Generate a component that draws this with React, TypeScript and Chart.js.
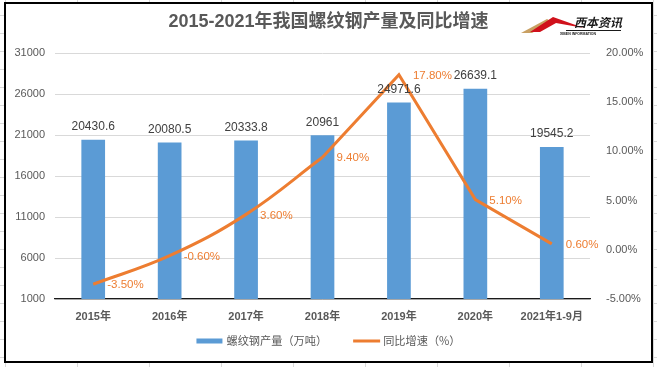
import React, { useEffect, useRef } from 'react';
import { Chart, registerables } from 'chart.js';

Chart.register(...registerables);

const categories = ['2015年', '2016年', '2017年', '2018年', '2019年', '2020年', '2021年1-9月'];
const production = [20430.6, 20080.5, 20333.8, 20961, 24971.6, 26639.1, 19545.2];
const growth = [-3.5, -0.6, 3.6, 9.4, 17.8, 5.1, 0.6];
const leftTicks = [1000, 6000, 11000, 16000, 21000, 26000, 31000];
const rightTicks = [-5, 0, 5, 10, 15, 20];
const smoothEndIndex = 3;

const titleText = '2015-2021年我国螺纹钢产量及同比增速';
const barLabel = '螺纹钢产量（万吨）';
const lineLabel = '同比增速（%）';

const BLUE = '#5B9BD5';
const ORANGE = '#ED7D31';
const GREY = '#595959';
const FONT = '"Liberation Sans", "Noto Sans CJK SC", sans-serif';
const CJK = '"Noto Sans CJK SC", "Liberation Sans", sans-serif';

const growthSmooth = growth.map((v, i) => (i <= smoothEndIndex ? v : null));
const growthStraight = growth.map((v, i) => (i >= smoothEndIndex ? v : null));

const labelsPlugin = {
  id: 'valueLabels',
  afterDatasetsDraw(chart: any) {
    const ctx = chart.ctx;
    const x = chart.scales.x;
    const y = chart.scales.y;
    const y1 = chart.scales.y1;
    ctx.save();
    ctx.font = `12px ${FONT}`;
    ctx.fillStyle = '#404040';
    ctx.textAlign = 'center';
    ctx.textBaseline = 'middle';
    production.forEach((v, i) => {
      ctx.fillText(String(v), x.getPixelForValue(i), y.getPixelForValue(v) - 13);
    });
    ctx.font = `11.5px ${FONT}`;
    ctx.fillStyle = ORANGE;
    ctx.textAlign = 'left';
    growth.forEach((v, i) => {
      ctx.fillText(v.toFixed(2) + '%', x.getPixelForValue(i) + 14, y1.getPixelForValue(v) + 1);
    });
    ctx.restore();
  },
};

const legendPlugin = {
  id: 'customLegend',
  afterDraw(chart: any) {
    const ctx = chart.ctx;
    ctx.save();
    ctx.font = `11.2px ${CJK}`;
    ctx.textBaseline = 'middle';
    ctx.textAlign = 'left';
    const w1 = ctx.measureText(barLabel).width;
    const w2 = ctx.measureText(lineLabel).width;
    const box1 = 26, box2 = 27, g1 = 4, g2 = 3, gap = 26;
    const total = box1 + g1 + w1 + gap + box2 + g2 + w2;
    let cx = chart.width / 2 - total / 2;
    const cy = 337;
    ctx.fillStyle = BLUE;
    ctx.fillRect(cx, cy - 2.5, box1, 5);
    cx += box1 + g1;
    ctx.fillStyle = GREY;
    ctx.fillText(barLabel, cx, cy);
    cx += w1 + gap;
    ctx.strokeStyle = ORANGE;
    ctx.lineWidth = 3;
    ctx.beginPath();
    ctx.moveTo(cx, cy);
    ctx.lineTo(cx + box2, cy);
    ctx.stroke();
    cx += box2 + g2;
    ctx.fillStyle = GREY;
    ctx.fillText(lineLabel, cx, cy);
    ctx.restore();
  },
};

const logoPlugin = {
  id: 'logo',
  afterDraw(chart: any) {
    const ctx = chart.ctx;
    ctx.save();
    const poly = (pts: number[][], color: string) => {
      ctx.beginPath();
      ctx.moveTo(pts[0][0], pts[0][1]);
      for (let k = 1; k < pts.length; k++) ctx.lineTo(pts[k][0], pts[k][1]);
      ctx.closePath();
      ctx.fillStyle = color;
      ctx.fill();
    };
    poly([[515, 29], [541, 15], [546, 18], [526, 29]], '#C9A063');
    poly([[524, 28], [547, 13], [578, 24], [550, 19], [534, 28]], '#D0111B');
    ctx.fillStyle = '#1a1a1a';
    ctx.font = `italic bold 12px ${CJK}`;
    ctx.textAlign = 'left';
    ctx.textBaseline = 'alphabetic';
    ctx.fillText('西本资讯', 568, 23);
    ctx.strokeStyle = '#1a1a1a';
    ctx.lineWidth = 1.2;
    ctx.beginPath();
    ctx.moveTo(560, 26.5);
    ctx.lineTo(615, 26.5);
    ctx.stroke();
    ctx.font = `bold 3.5px ${FONT}`;
    ctx.fillText('XIBEN INFORMATION', 554, 30.5);
    ctx.restore();
  },
};

export default function App() {
  const ref = useRef<HTMLCanvasElement | null>(null);

  useEffect(() => {
    if (!ref.current) return;
    const chart = new Chart(ref.current, {
      type: 'bar',
      data: {
        labels: categories,
        datasets: [
          {
            type: 'bar',
            label: barLabel,
            data: production,
            backgroundColor: BLUE,
            barPercentage: 0.31,
            categoryPercentage: 1,
            yAxisID: 'y',
            order: 1,
          } as any,
          {
            type: 'line',
            label: lineLabel,
            data: growthSmooth,
            borderColor: ORANGE,
            backgroundColor: ORANGE,
            borderWidth: 3,
            pointRadius: 0,
            tension: 0.4,
            spanGaps: false,
            yAxisID: 'y1',
            order: 0,
          } as any,
          {
            type: 'line',
            label: lineLabel,
            data: growthStraight,
            borderColor: ORANGE,
            backgroundColor: ORANGE,
            borderWidth: 3,
            pointRadius: 0,
            tension: 0,
            spanGaps: false,
            yAxisID: 'y1',
            order: 0,
          } as any,
        ],
      },
      options: {
        responsive: false,
        animation: false,
        devicePixelRatio: 1,
        layout: { padding: { left: 0, right: 0, top: 0, bottom: 26.8 } },
        plugins: {
          tooltip: { enabled: false },
          legend: { display: false },
          title: {
            display: true,
            text: titleText,
            color: GREY,
            font: { size: 18, weight: 'bold', family: FONT },
            padding: { top: 7, bottom: 20.4 },
          },
        },
        scales: {
          x: {
            offset: true,
            grid: { display: false, drawTicks: false },
            border: { display: true, color: '#1a1a1a', width: 1.2 },
            ticks: {
              color: GREY,
              font: { size: 11, weight: 'bold', family: FONT },
              padding: 11,
              maxRotation: 0,
              autoSkip: false,
            },
          },
          y: {
            position: 'left',
            min: 1000,
            max: 31000,
            grid: { color: '#d9d9d9', lineWidth: 1, drawTicks: false },
            border: { display: false },
            ticks: {
              color: GREY,
              font: { size: 11, family: FONT },
              padding: 10,
              callback: (v: any) => String(v),
            },
            afterBuildTicks: (s: any) => {
              s.ticks = leftTicks.map((v) => ({ value: v }));
            },
            afterFit: (s: any) => {
              s.width = 49;
            },
          },
          y1: {
            position: 'right',
            min: -5,
            max: 20,
            grid: { display: false, drawTicks: false },
            border: { display: false },
            ticks: {
              color: GREY,
              font: { size: 11, family: FONT },
              padding: 16,
              callback: (v: any) => Number(v).toFixed(2) + '%',
            },
            afterBuildTicks: (s: any) => {
              s.ticks = rightTicks.map((v) => ({ value: v }));
            },
            afterFit: (s: any) => {
              s.width = 61;
            },
          },
        },
      } as any,
      plugins: [labelsPlugin, legendPlugin, logoPlugin],
    });
    return () => chart.destroy();
  }, []);

  return (
    <div
      style={{
        position: 'fixed',
        left: 0,
        top: 0,
        width: 657,
        height: 367,
        backgroundColor: '#fff',
        backgroundImage:
          'linear-gradient(to right, #d9d9d9 1px, transparent 1px), linear-gradient(to bottom, #d9d9d9 1px, transparent 1px)',
        backgroundSize: '72px 18px',
        backgroundPosition: '5px 15px',
      }}
    >
      <div
        style={{
          position: 'absolute',
          left: 4,
          top: 2,
          width: 645,
          height: 357,
          border: '2px solid #000',
          background: '#fff',
        }}
      >
        <canvas ref={ref} width={645} height={357} style={{ display: 'block', width: 645, height: 357 }} />
      </div>
    </div>
  );
}
